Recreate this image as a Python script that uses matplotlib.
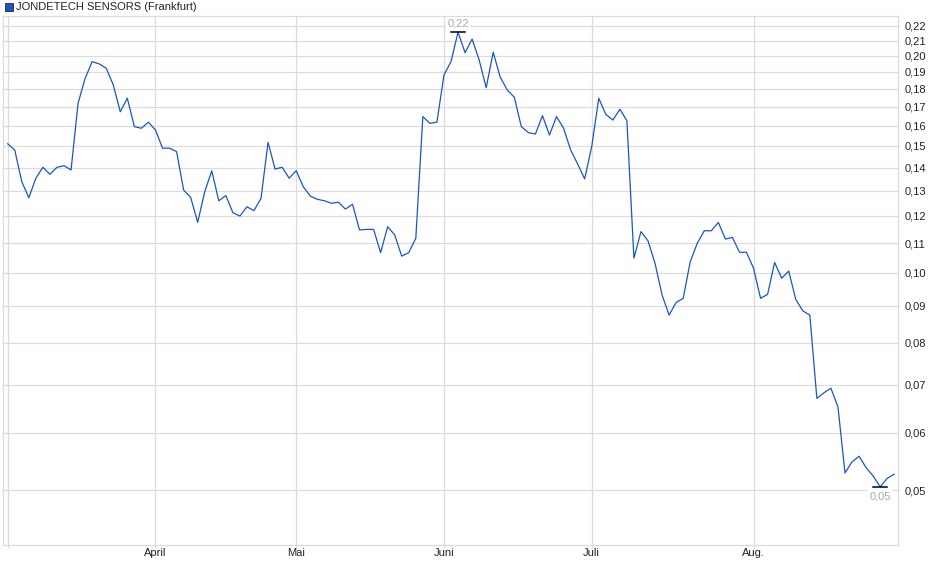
import numpy as np
import pandas as pd
import matplotlib
matplotlib.use("Agg")
import matplotlib.pyplot as plt
from matplotlib.ticker import FixedLocator, NullLocator, FuncFormatter

plt.rcParams['font.family'] = ['Liberation Sans', 'DejaVu Sans']

# trading days Frankfurt, March 3 - Aug 29 2025 (Easter + May 1 closed)
holidays = ['2025-04-18', '2025-04-21', '2025-05-01']
dates = pd.bdate_range('2025-03-03', '2025-08-29', freq='C', holidays=holidays)

prices = [
    0.151, 0.148, 0.1338, 0.1271, 0.1353, 0.1401, 0.137, 0.1401, 0.1408, 0.1389,
    0.1719, 0.1861, 0.1963, 0.1949, 0.1922, 0.1822, 0.1673, 0.1746, 0.1595, 0.1587,
    0.1618, 0.1578, 0.1489, 0.1489, 0.1473, 0.1303, 0.1273, 0.1175, 0.1296, 0.1385,
    0.1259, 0.128, 0.1212, 0.1199, 0.1235, 0.122, 0.1269, 0.1517, 0.1393, 0.1401,
    0.1353, 0.1386, 0.1317, 0.1278, 0.1265, 0.1259, 0.1249, 0.1253, 0.1226, 0.1245,
    0.1147, 0.1149, 0.1149, 0.1067, 0.1159, 0.1129, 0.1055, 0.1067, 0.1117, 0.1647,
    0.1612, 0.1618, 0.1881, 0.1963, 0.2156, 0.202, 0.211, 0.1974, 0.1806, 0.2023,
    0.1868, 0.1793, 0.1752, 0.1595, 0.1565, 0.1558, 0.1652, 0.1553, 0.1647, 0.1587,
    0.1481, 0.1416, 0.135, 0.1496, 0.1746, 0.1659, 0.1629, 0.1686, 0.1626, 0.1048,
    0.1141, 0.1108, 0.1031, 0.0932, 0.0874, 0.091, 0.0922, 0.1036, 0.1099, 0.1144,
    0.1144, 0.1175, 0.1114, 0.112, 0.1068, 0.1068, 0.1015, 0.0922, 0.0934, 0.1034,
    0.0983, 0.1006, 0.0919, 0.0886, 0.0874, 0.067, 0.0682, 0.0692, 0.0652, 0.0528,
    0.0547, 0.0557, 0.0537, 0.0523, 0.0505, 0.0519, 0.0526,
]

month_names = {3: '', 4: 'April', 5: 'Mai', 6: 'Juni', 7: 'Juli', 8: 'Aug.'}
y_ticks = [0.05, 0.06, 0.07, 0.08, 0.09, 0.10, 0.11, 0.12, 0.13, 0.14, 0.15,
           0.16, 0.17, 0.18, 0.19, 0.20, 0.21, 0.22]

x = np.arange(len(dates))
y = np.array(prices)

# first trading day of each month -> tick
month_start = [i for i in range(len(dates)) if i == 0 or dates[i].month != dates[i - 1].month]
month_labels = [month_names[dates[i].month] for i in month_start]

fig = plt.figure(figsize=(9.4, 5.79), dpi=100)
ax = fig.add_axes([0.0032, 0.0587, 0.9521, 0.9137])

grid_col = '#dcdcdc'
ax.set_yscale('log')
ax.set_ylim(0.04195, 0.2271)
ax.set_xlim(-0.67, len(x) - 1 + 0.53)

ax.plot(x, y, color='#1a56c2', lw=0.9, zorder=3)

ax.yaxis.set_major_locator(FixedLocator(y_ticks))
ax.yaxis.set_minor_locator(NullLocator())
ax.yaxis.set_major_formatter(FuncFormatter(lambda v, p: f'{v:.2f}'.replace('.', ',')))
ax.yaxis.tick_right()
ax.tick_params(axis='y', length=0, pad=5, labelsize=8, labelcolor='#222222')

ax.set_xticks(month_start)
ax.set_xticklabels(month_labels)
ax.tick_params(axis='x', length=2, color=grid_col, pad=0.5, labelsize=8, labelcolor='#222222')

ax.grid(True, color=grid_col, lw=0.9)
ax.set_axisbelow(True)
for s in ax.spines.values():
    s.set_color(grid_col)
    s.set_linewidth(0.9)

# max / min markers
i_max = int(np.argmax(y))
i_min = int(np.argmin(y))
for i, va, off in [(i_max, 'bottom', 3), (i_min, 'top', -3)]:
    ax.plot([i - 1, i + 1], [y[i], y[i]], color='black', lw=1.1, zorder=4)
    ax.annotate(f'{y[i]:.2f}'.replace('.', ','), (i, y[i]), xytext=(0, off),
                textcoords='offset points', ha='center', va=va,
                fontsize=8, color='#a8a8a8', zorder=5,
                bbox=dict(boxstyle='square,pad=0.1', fc='white', ec='none'))

# legend-like title
fig.patches.append(plt.Rectangle((5 / 940, 1 - 10.5 / 579), 8 / 940, 8 / 579,
                                 transform=fig.transFigure, fc='#1a56c2', ec='#222244', lw=0.6))
fig.text(16 / 940, 1 - 6.5 / 579, 'JONDETECH SENSORS (Frankfurt)', fontsize=8,
         va='center', ha='left', color='#222222')

fig.savefig('out.png', dpi=100)
